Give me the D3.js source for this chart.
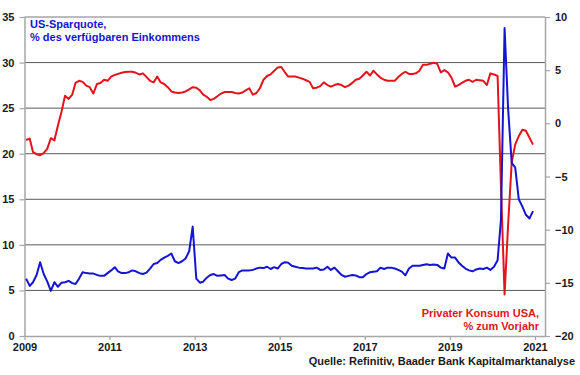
<!DOCTYPE html>
<html>
<head>
<meta charset="utf-8">
<script src="https://cdn.jsdelivr.net/npm/d3@7"></script>
<style>
    html, body { margin: 0; padding: 0; background: #fff; }
    svg text { font-family: "Liberation Sans", Arial, sans-serif; font-weight: bold; }
</style>
</head>
<body>
<svg id="chart" width="580" height="375"></svg>
<script>
"use strict";

// monthly data, Jan 2009 - Dec 2020
var firstMonth = [2009, 0];

var savingRate = [
    6.3, 5.5, 5.9, 6.7, 8.1, 6.8, 6.0, 4.95, 5.9, 5.4, 5.85, 5.9,
    6.05, 5.8, 5.7, 6.3, 7.0, 6.9, 6.85, 6.85, 6.7, 6.6, 6.6, 6.9,
    7.2, 7.55, 7.1, 6.9, 6.9, 7.0, 7.2, 7.1, 6.9, 6.8, 6.95, 7.4,
    7.9, 8.0, 8.35, 8.6, 8.8, 9.05, 8.2, 8.0, 8.2, 8.5, 9.3, 12.0,
    6.3, 5.85, 5.96, 6.4, 6.7, 6.8, 6.6, 6.65, 6.7, 6.3, 6.15, 6.3,
    7.0, 7.2, 7.2, 7.2, 7.25, 7.4, 7.5, 7.45, 7.6, 7.35, 7.55, 7.4,
    7.9, 8.1, 8.05, 7.7, 7.6, 7.5, 7.45, 7.4, 7.4, 7.4, 7.5, 7.25,
    7.3, 7.6, 7.25, 7.5, 7.1, 6.7, 6.5, 6.6, 6.7, 6.65, 6.45, 6.45,
    6.8, 7.0, 7.06, 7.1, 7.5, 7.35, 7.5, 7.5, 7.4, 7.25, 7.06, 6.65,
    7.4, 7.7, 7.7, 7.7, 7.8, 7.87, 7.8, 7.85, 7.8, 7.5, 7.4, 9.05,
    8.6, 8.6, 8.1, 7.7, 7.4, 7.2, 7.1, 7.3, 7.4, 7.35, 7.5, 7.25,
    7.6, 8.3, 12.8, 33.8, 25.0, 19.0, 18.5, 15.0, 14.2, 13.3, 12.9, 13.7
];

var consumptionYoY = [
    -1.57, -1.44, -2.7, -2.9, -3.0, -2.8, -2.4, -1.4, -1.6, -0.2, 1.1, 2.6,
    2.3, 2.7, 3.8, 4.0, 3.9, 3.55, 3.4, 2.8, 3.7, 3.8, 4.1, 4.0,
    4.4, 4.55, 4.65, 4.75, 4.83, 4.85, 4.85, 4.75, 4.6, 4.7, 4.35, 4.0,
    3.85, 4.4, 3.85, 3.7, 3.4, 3.0, 2.9, 2.85, 2.9, 3.0, 3.2, 3.4,
    3.35, 3.1, 2.7, 2.5, 2.2, 2.3, 2.55, 2.8, 2.95, 2.95, 2.95, 2.85,
    2.8, 2.9, 3.1, 3.3, 2.7, 2.85, 3.3, 4.1, 4.45, 4.6, 4.95, 5.25,
    5.3, 4.8, 4.4, 4.4, 4.4, 4.3, 4.2, 4.05, 3.9, 3.3, 3.35, 3.5,
    3.85, 3.6, 3.45, 3.6, 3.7, 3.6, 3.4, 3.55, 3.8, 4.1, 4.2, 4.5,
    4.85, 4.5, 4.95, 4.6, 4.3, 4.1, 4.0, 4.0, 4.0, 4.35, 4.65, 4.85,
    4.65, 4.65, 4.7, 4.95, 5.5, 5.5, 5.6, 5.7, 5.6, 4.8, 5.0, 4.8,
    4.3, 3.45, 3.6, 3.8, 4.0, 4.1, 3.9, 4.1, 4.05, 4.0, 3.6, 4.7,
    4.6, 4.45, -6.0, -16.1, -9.6, -3.7, -2.0, -1.2, -0.6, -0.7, -1.35, -2.0
];

var yearTicks = [2009, 2011, 2013, 2015, 2017, 2019, 2021];
var leftTicks = [0, 5, 10, 15, 20, 25, 30, 35];
var rightTicks = [-20, -15, -10, -5, 0, 5, 10];

var titleLeft = ["US-Sparquote,", "% des verfügbaren Einkommens"];
var titleRight = ["Privater Konsum USA,", "% zum Vorjahr"];
var sourceText = "Quelle: Refinitiv, Baader Bank Kapitalmarktanalyse";

var margin = { top: 17, right: 35, bottom: 39, left: 24.5 };
var width = 580, height = 375;
var blue = "#1414d2", red = "#e3141c";

var svg = d3.select("#chart");

var x = d3.scaleTime()
    .domain([new Date(2009, 0, 1), new Date(2021, 2, 28)])
    .range([margin.left, width - margin.right]);
var yLeft = d3.scaleLinear().domain([0, 35])
    .range([height - margin.bottom, margin.top]);
var yRight = d3.scaleLinear().domain([-20, 10])
    .range([height - margin.bottom, margin.top]);

function monthDate(i) {
    return new Date(firstMonth[0], firstMonth[1] + i, 15);
}

// grid
svg.append("g")
    .selectAll("line")
    .data(leftTicks.slice(1, -1))
    .join("line")
    .attr("x1", x.range()[0]).attr("x2", x.range()[1])
    .attr("y1", function (d) { return yLeft(d); })
    .attr("y2", function (d) { return yLeft(d); })
    .attr("stroke", "#5a5a5a").attr("stroke-width", 1);

svg.append("line")
    .attr("x1", x.range()[0]).attr("x2", x.range()[1])
    .attr("y1", margin.top).attr("y2", margin.top)
    .attr("stroke", "#a6a6a6").attr("stroke-width", 1.5);

// axes
var axisLeft = svg.append("g")
    .attr("transform", "translate(" + margin.left + ",0)")
    .call(d3.axisLeft(yLeft).tickValues(leftTicks).tickSize(5).tickPadding(5));

var axisRight = svg.append("g")
    .attr("transform", "translate(" + (width - margin.right) + ",0)")
    .call(d3.axisRight(yRight).tickValues(rightTicks).tickSize(5).tickPadding(5));

var axisBottom = svg.append("g")
    .attr("transform", "translate(0," + (height - margin.bottom) + ")")
    .call(d3.axisBottom(x)
        .tickValues(yearTicks.map(function (y) { return new Date(y, 0, 1); }))
        .tickFormat(d3.timeFormat("%Y"))
        .tickSize(4).tickPadding(3));

[axisLeft, axisRight, axisBottom].forEach(function (g) {
    g.select(".domain").attr("stroke", "#a6a6a6").attr("stroke-width", 1.5);
    g.selectAll(".tick line").attr("stroke", "#a6a6a6").attr("stroke-width", 1.2);
    g.selectAll(".tick text")
        .attr("fill", "#1a1a1a")
        .style("font-size", "11px")
        .style("font-family", "'Liberation Sans', Arial, sans-serif")
        .style("font-weight", "bold");
});
axisLeft.select(".domain").attr("d", "M0.5," + margin.top + "V" + (height - margin.bottom));
axisRight.select(".domain").attr("d", "M0.5," + margin.top + "V" + (height - margin.bottom));
axisBottom.select(".domain").attr("d", "M" + margin.left + ",0.5H" + (width - margin.right));

// lines
var lineLeft = d3.line()
    .x(function (d, i) { return x(monthDate(i)); })
    .y(function (d) { return yLeft(d); });
var lineRight = d3.line()
    .x(function (d, i) { return x(monthDate(i)); })
    .y(function (d) { return yRight(d); });

svg.append("path")
    .attr("fill", "none")
    .attr("stroke", red)
    .attr("stroke-width", 2)
    .attr("stroke-linejoin", "round")
    .attr("d", lineRight(consumptionYoY));

svg.append("path")
    .attr("fill", "none")
    .attr("stroke", blue)
    .attr("stroke-width", 2)
    .attr("stroke-linejoin", "round")
    .attr("d", lineLeft(savingRate));

// labels
svg.append("text")
    .attr("x", 30).attr("y", 28)
    .attr("fill", blue)
    .style("font-size", "11px")
    .selectAll("tspan")
    .data(titleLeft)
    .join("tspan")
    .attr("x", 30)
    .attr("dy", function (d, i) { return i ? 13 : 0; })
    .text(function (d) { return d; });

svg.append("text")
    .attr("x", 539).attr("y", 317)
    .attr("fill", red)
    .attr("text-anchor", "end")
    .style("font-size", "11px")
    .selectAll("tspan")
    .data(titleRight)
    .join("tspan")
    .attr("x", 539)
    .attr("dy", function (d, i) { return i ? 13 : 0; })
    .text(function (d) { return d; });

svg.append("text")
    .attr("x", 575).attr("y", 365)
    .attr("text-anchor", "end")
    .attr("fill", "#1a1a1a")
    .style("font-size", "11px")
    .text(sourceText);
</script>
</body>
</html>
